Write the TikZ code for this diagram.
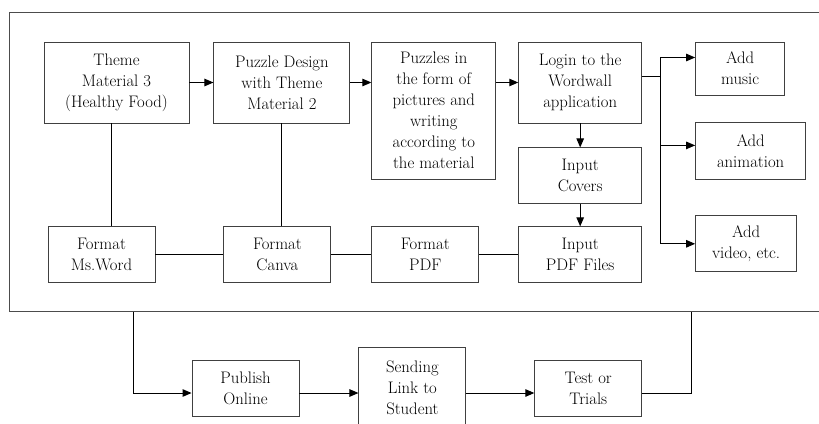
\documentclass[tikz,border=0pt]{standalone}
\usetikzlibrary{arrows.meta,positioning,calc}

\begin{document}
\begin{tikzpicture}[
  x=1pt, y=1pt,
  font={\fontsize{16.7}{21}\selectfont},
  box/.style={draw=black!75, line width=0.9pt, align=center, inner sep=2pt,
              minimum width=107pt, minimum height=56pt},
  tall/.style={box, minimum height=81pt},
  ln/.style={line width=1pt},
  ar/.style={ln, -{Triangle[length=9pt, width=7.5pt]}}
]
\useasboundingbox (0,0) rectangle (819,-423);
\node[draw=black!70, line width=0.9pt, inner sep=0pt, anchor=north west,
      minimum width=830pt, minimum height=299pt] (frame) at (9,-12) {};
\node[tall, minimum width=145pt] (theme) at (116.5,-82.5) {Theme\\Material 3\\(Healthy Food)};
\node[tall, minimum width=136pt, right=24pt of theme] (design) {Puzzle Design\\with Theme\\Material 2};
\node[box, minimum width=124pt, minimum height=137pt, right=21pt of design.north east, anchor=north west] (puzzles)
      {Puzzles in\\the form of\\pictures and\\writing\\according to\\the material};
\node[tall, minimum width=123pt, right=22pt of puzzles.north east, anchor=north west] (login)
      {Login to the\\Wordwall\\application};
\node[box, minimum width=123pt, below=24pt of login] (covers) {Input\\Covers};
\node[box, minimum width=123pt, below=22pt of covers] (pdffiles) {Input\\PDF Files};
\node[box, left=39pt of pdffiles] (fpdf) {Format\\PDF};
\node[box, left=40pt of fpdf] (fcanva) {Format\\Canva};
\node[box, left=68pt of fcanva] (fword) {Format\\Ms.Word};
\node[box, minimum width=89pt, minimum height=53pt, right=53pt of login.north east, anchor=north west] (music) {Add\\music};
\node[box, minimum width=110pt, minimum height=57pt, below=27pt of music.south west, anchor=north west] (anim) {Add\\animation};
\node[box, minimum width=101pt, below=35pt of anim.south west, anchor=north west] (video) {Add\\video, etc.};
\node[box] (publish) at (245.5,-388) {Publish\\Online};
\node[tall, right=59pt of publish] (sending) {Sending\\Link to\\Student};
\node[box, right=68pt of sending] (test) {Test or\\Trials};
\coordinate (hub) at ($([yshift=6pt]login.east)+(18,0)$);
\coordinate (drop) at ($(frame.south west)+(124,0)$);
\coordinate (rise) at ($(frame.south west)+(682,0)$);
% top row
\draw[ar] (theme) -- (design);
\draw[ar] (design) -- (puzzles.west |- design.east);
\draw[ar] (puzzles.east |- login.west) -- (login.west);
\draw[ar] (login) -- (covers);
\draw[ar] (covers) -- (pdffiles);
% formats
\draw[ln] ([xshift=-5pt]theme.south) -- ([xshift=-5pt]theme.south |- fword.north);
\draw[ln] (design) -- (design |- fcanva.north);
\draw[ln] (fword) -- (fcanva);
\draw[ln] (fcanva) -- (fpdf);
\draw[ln] (fpdf) -- (pdffiles);
% extras
\draw[ln] ([yshift=6pt]login.east) -- (hub);
\draw[ar] (hub) |- ([yshift=11pt]music.west);
\draw[ar] (hub) |- ([yshift=6pt]anim.west);
\draw[ar] (hub) |- (video.west);
% bottom row
\draw[ar] (drop) |- ([yshift=-5pt]publish.west);
\draw[ar] ([yshift=-5pt]publish.east) -- ([yshift=-5pt]sending.west);
\draw[ar] ([yshift=-5pt]sending.east) -- ([yshift=-5pt]test.west);
\draw[ln] ([yshift=-5pt]test.east) -| (rise);
\end{tikzpicture}
\end{document}
